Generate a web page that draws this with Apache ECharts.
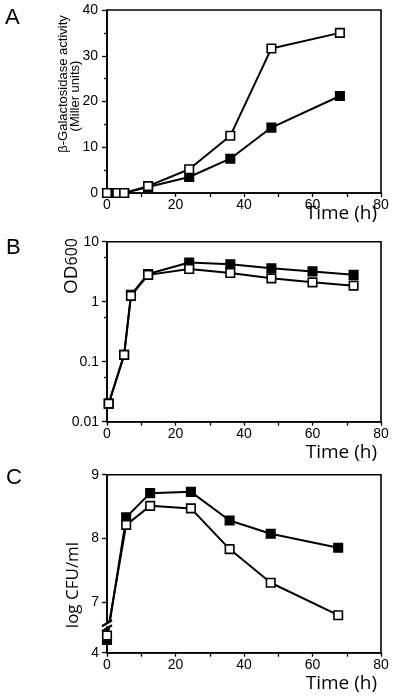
<!DOCTYPE html>
<html><head><meta charset="utf-8">
<script src="https://cdn.jsdelivr.net/npm/echarts@6.0.0/dist/echarts.min.js"></script>
<style>html,body{margin:0;padding:0;background:#fff}#c{width:400px;height:700px}</style>
</head><body><div id="c"></div>
<script>
// Panel A: beta-galactosidase activity (Miller units) vs time (h)
const timeA = [0, 3, 5, 12, 24, 36, 48, 68];
const galOpen = [0, 0, 0, 1.5, 5.2, 12.5, 31.6, 35.0];
const galFilled = [0, 0, 0, 1.3, 3.5, 7.5, 14.3, 21.2];
// Panel B: OD600 (log scale) vs time (h)
const timeB = [0.5, 5, 7, 12, 24, 36, 48, 60, 72];
const odOpen = [0.02, 0.13, 1.25, 2.8, 3.5, 3.0, 2.45, 2.1, 1.85];
const odFilled = [0.02, 0.13, 1.3, 2.9, 4.5, 4.2, 3.6, 3.2, 2.8];
// Panel C: log CFU/ml vs time (h), broken y axis between 4 and 7
const timeC = [0, 5.6, 12.6, 24.5, 35.8, 47.8, 67.5];
const cfuOpen = [4.27, 8.21, 8.51, 8.47, 7.83, 7.30, 6.79];
const cfuFilled = [4.20, 8.33, 8.71, 8.73, 8.28, 8.07, 7.85];
// Tick labels
const xTickLabels = [0, 20, 40, 60, 80];
const aTicks = [0, 10, 20, 30, 40];
const bTicks = [0.01, 0.1, 1, 10];
const cTicks = [4, 7, 8, 9];

const TICKFONT = 'Liberation Sans, Arial, sans-serif';
const NAMEFONT = 'Open Sans, sans-serif';

const chart = echarts.init(document.getElementById('c'), null, {renderer: 'canvas'});

function grid(top, height) {
  return {left: 107, width: 274, top: top, height: height, show: true,
    borderColor: '#000', borderWidth: 1.6, backgroundColor: 'transparent',
    containLabel: false, outerBoundsMode: 'none'};
}
const lineAx = {onZero: false, lineStyle: {color: '#000', width: 1.6}};
function xAx(idx) {
  return {type: 'value', gridIndex: idx, min: 0, max: 80, interval: 20,
    axisLine: lineAx,
    axisTick: {show: true, length: 4, lineStyle: {color: '#000', width: 1.3}},
    minorTick: {show: true, splitNumber: 2, length: 4, lineStyle: {color: '#000', width: 1.3}},
    axisLabel: {color: '#000', fontSize: 14, fontFamily: TICKFONT, margin: 5,
      customValues: xTickLabels},
    splitLine: {show: false}, minorSplitLine: {show: false}};
}
function ser(idx, xs, ys, filled) {
  return {type: 'line', xAxisIndex: idx, yAxisIndex: idx,
    data: xs.map((x, i) => [x, ys[i]]),
    symbol: 'rect', symbolSize: 8.5, showSymbol: true, showAllSymbol: true,
    lineStyle: {color: '#000', width: 2},
    itemStyle: {color: filled ? '#000' : '#fff', borderColor: '#000', borderWidth: 1.6},
    z: filled ? 2 : 3, silent: true, animation: false};
}

const option = {
  animation: false,
  backgroundColor: '#fff',
  grid: [grid(10, 183), grid(241.7, 180), grid(474.7, 178)],
  xAxis: [xAx(0), xAx(1), xAx(2)],
  yAxis: [
    {type: 'value', gridIndex: 0, min: 0, max: 40, interval: 10,
      axisLine: lineAx,
      axisTick: {show: true, length: 5, lineStyle: {color: '#000', width: 1.3}},
      minorTick: {show: true, splitNumber: 2, length: 3, lineStyle: {color: '#000', width: 1.3}},
      axisLabel: {color: '#000', fontSize: 14, fontFamily: TICKFONT, margin: 9, customValues: aTicks},
      splitLine: {show: false}},
    {type: 'log', logBase: 10, gridIndex: 1, min: 0.01, max: 10,
      axisLine: lineAx,
      axisTick: {show: true, length: 5, lineStyle: {color: '#000', width: 1.3}},
      minorTick: {show: true, splitNumber: 2, length: 3, lineStyle: {color: '#000', width: 1.3}},
      axisLabel: {color: '#000', fontSize: 14, fontFamily: TICKFONT, margin: 8,
        formatter: v => String(+v.toPrecision(3))},
      splitLine: {show: false}, minorSplitLine: {show: false}},
    {type: 'value', gridIndex: 2, min: 4, max: 9,
      breaks: [{start: 4.4, end: 6.6, gap: 0}],
      breakArea: {show: false, expandOnClick: false},
      axisLine: lineAx,
      axisTick: {show: true, length: 5, customValues: cTicks, lineStyle: {color: '#000', width: 1.3}},
      axisLabel: {color: '#000', fontSize: 14, fontFamily: TICKFONT, margin: 8, customValues: cTicks},
      splitLine: {show: false}}
  ],
  series: [
    ser(0, timeA, galFilled, true), ser(0, timeA, galOpen, false),
    ser(1, timeB, odFilled, true), ser(1, timeB, odOpen, false),
    ser(2, timeC, cfuFilled, true), ser(2, timeC, cfuOpen, false)
  ]
};
chart.setOption(option);

// Text labels and the axis-break marks
const texts = [];
function txt(t, x, y, size, font, align, rot, rich) {
  const e = {type: 'text', x: x, y: y, rotation: rot || 0, silent: true, z: 100,
    style: {text: t, fill: '#000', font: size + 'px ' + font, align: align || 'center', verticalAlign: 'middle'}};
  if (rich) e.style.rich = rich;
  texts.push(e);
}
txt('A', 5, 17.5, 22, TICKFONT, 'left');
txt('B', 6, 247.5, 22, TICKFONT, 'left');
txt('C', 6, 477.5, 22, TICKFONT, 'left');
txt('Time (h)', 377, 214, 19, NAMEFONT, 'right');
txt('Time (h)', 377, 453, 19, NAMEFONT, 'right');
txt('Time (h)', 377, 684, 19, NAMEFONT, 'right');
txt('β-Galactosidase activity', 63, 84, 13, TICKFONT, 'center', Math.PI / 2);
txt('(Miller units)', 75, 96, 13, TICKFONT, 'center', Math.PI / 2);
txt('{a|OD}{b|600}', 72, 266, 18, NAMEFONT, 'center', Math.PI / 2,
  {a: {fontSize: 19, fontFamily: NAMEFONT, fill: '#000'}, b: {fontSize: 16, fontFamily: NAMEFONT, fill: '#000'}});
txt('log CFU/ml', 73, 585, 17, NAMEFONT, 'center', Math.PI / 2);

const bp = chart.convertToPixel({xAxisIndex: 2, yAxisIndex: 2}, [0, 4.4]);
const bx = bp[0], by = bp[1];
texts.push({type: 'rect', silent: true, z: 90, shape: {x: bx - 6, y: by - 5, width: 12, height: 4}, style: {fill: '#fff'}});
texts.push({type: 'line', silent: true, z: 95, shape: {x1: bx - 5, y1: by - 1, x2: bx + 5, y2: by - 7}, style: {stroke: '#000', lineWidth: 2.2}});
texts.push({type: 'line', silent: true, z: 95, shape: {x1: bx - 5, y1: by + 4, x2: bx + 5, y2: by - 2}, style: {stroke: '#000', lineWidth: 2.2}});
chart.setOption({graphic: texts});
</script>
</body></html>
